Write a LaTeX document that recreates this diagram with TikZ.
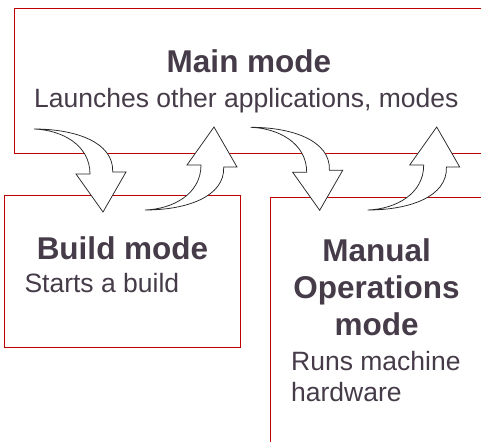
\documentclass[tikz,border=0pt]{standalone}
\usepackage{fontspec}
\setmainfont{Liberation Sans}
\definecolor{boxred}{RGB}{192,0,0}
\definecolor{txt}{RGB}{70,59,72}
\tikzset{
  redline/.style={draw=boxred, line width=0.95pt},
  arrowshape/.style={draw=black!85, fill=white, line width=0.75pt, line join=miter},
  titletext/.style={text=txt, inner sep=0pt, font=\fontsize{31.5}{37}\selectfont\bfseries},
  bodytext/.style={text=txt, inner sep=0pt, font=\fontsize{26.5}{31}\selectfont},
  curvarrow/.pic={
    \draw[arrowshape] (0,0) .. controls (41,0) and (80,13) .. (78.7,43)
      -- (92,43) -- (69,83) -- (42,45) -- (56,45)
      .. controls (56,16) and (28,1) .. (0,0) -- cycle;
  }
}
\begin{document}
\begin{tikzpicture}[x=1pt,y=-1pt]
\useasboundingbox (0,0) rectangle (481,442);
% boxes
\draw[redline] (482,8) -- (14,8) -- (14,153) -- (482,153);
\draw[redline] (4,195) rectangle (240,347);
\draw[redline] (482,197) -- (270,197) -- (270,442);
% curved arrows
\pic at (34,129) {curvarrow};
\pic[yscale=-1] at (145,210) {curvarrow};
\pic at (250.7,127.3) {curvarrow};
\pic[yscale=-1] at (367.7,210) {curvarrow};
% texts
\node[titletext, anchor=base] (maint) at (249,72.7) {Main mode};
\node[bodytext, anchor=base] (maind) at (246.3,107.3) {Launches other applications, modes};
\node[titletext, anchor=base] (buildt) at (122.5,259) {Build mode};
\node[bodytext, anchor=base west] (buildd) at (24.3,292.3) {Starts a build};
\node[titletext, anchor=base] (man1) at (376.6,261) {Manual};
\node[titletext, anchor=base] (man2) at (376.4,298.5) {Operations};
\node[titletext, anchor=base] (man3) at (376.6,335.7) {mode};
\node[bodytext, anchor=base west] (run1) at (291,370) {Runs machine};
\node[bodytext, anchor=base west] (run2) at (291,401.7) {hardware};
\end{tikzpicture}
\end{document}
